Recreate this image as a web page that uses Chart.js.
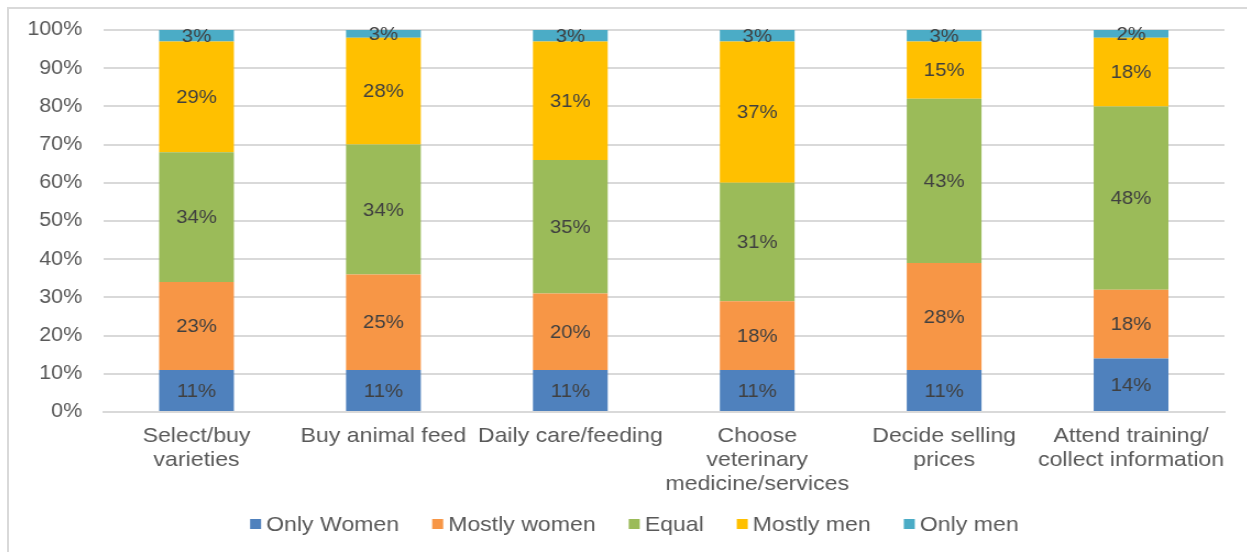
<!DOCTYPE html>
<html>
<head>
<meta charset="utf-8">
<script src="https://cdn.jsdelivr.net/npm/chart.js@4.4.0/dist/chart.umd.min.js"></script>
<style>
  html, body { margin: 0; padding: 0; background: #fff; overflow: hidden; }
  #frame {
    position: absolute; left: 7px; top: 7px; width: 1260px; height: 560px;
    border-left: 2px solid #d9d9d9; border-top: 2px solid #d9d9d9;
  }
  /* chart is laid out narrower and stretched sideways */
  #wrap {
    position: absolute; left: 0; top: 0; width: 1125px; height: 543px;
    transform: scaleX(1.1); transform-origin: 0 0;
  }
</style>
</head>
<body>
<div id="frame"><div id="wrap"><canvas id="decisionChart"></canvas></div></div>
<script>
const categories = [
  ['Select/buy', 'varieties'],
  'Buy animal feed',
  'Daily care/feeding',
  ['Choose', 'veterinary', 'medicine/services'],
  ['Decide selling', 'prices'],
  ['Attend training/', 'collect information']
];
const onlyWomen   = [11, 11, 11, 11, 11, 14];
const mostlyWomen = [23, 25, 20, 18, 28, 18];
const equal       = [34, 34, 35, 31, 43, 48];
const mostlyMen   = [29, 28, 31, 37, 15, 18];
const onlyMen     = [3, 3, 3, 3, 3, 2];
const yTicks = [0, 10, 20, 30, 40, 50, 60, 70, 80, 90, 100];

const font = "'Liberation Sans', Arial, sans-serif";

// writes the percentage in the middle of every segment
const segmentLabels = {
  id: 'segmentLabels',
  afterDatasetsDraw(chart) {
    const ctx = chart.ctx;
    ctx.save();
    ctx.font = '18.5px ' + font;
    ctx.fillStyle = '#404040';
    ctx.textAlign = 'center';
    ctx.textBaseline = 'middle';
    chart.data.datasets.forEach((ds, i) => {
      chart.getDatasetMeta(i).data.forEach((bar, j) => {
        const top = Math.max(bar.y, chart.chartArea.top);
        ctx.fillText(ds.data[j] + '%', bar.x, (top + bar.base) / 2 + 1);
      });
    });
    ctx.restore();
  }
};

// compact legend row under the axis labels (small square tight to its text)
const bottomLegend = {
  id: 'bottomLegend',
  afterDraw(chart) {
    const ctx = chart.ctx;
    const box = 10, textGap = 14.5, itemGap = 30;
    ctx.save();
    ctx.font = '21px ' + font;
    ctx.textBaseline = 'middle';
    const items = chart.data.datasets.map(ds => ({
      text: ds.label, color: ds.backgroundColor, w: ctx.measureText(ds.label).width
    }));
    const total = items.reduce((s, it) => s + textGap + it.w, 0) + itemGap * (items.length - 1);
    let x = chart.width / 2 + 6 - total / 2;
    const y = chart.height - 28;
    items.forEach(it => {
      ctx.fillStyle = it.color;
      ctx.fillRect(x, y - box / 2, box, box);
      ctx.fillStyle = '#595959';
      ctx.fillText(it.text, x + textGap, y + 1);
      x += textGap + it.w + itemGap;
    });
    ctx.restore();
  }
};

function renderDecisionChart() {
  const ctx = document.getElementById('decisionChart').getContext('2d');
  new Chart(ctx, {
    type: 'bar',
    data: {
      labels: categories,
      datasets: [
        { label: 'Only Women', data: onlyWomen, backgroundColor: '#4f81bd' },
        { label: 'Mostly women', data: mostlyWomen, backgroundColor: '#f79646' },
        { label: 'Equal', data: equal, backgroundColor: '#9bbb59' },
        { label: 'Mostly men', data: mostlyMen, backgroundColor: '#ffc000' },
        { label: 'Only men', data: onlyMen, backgroundColor: '#4bacc6' }
      ]
    },
    options: {
      responsive: true,
      maintainAspectRatio: false,
      animation: false,
      datasets: { bar: { categoryPercentage: 1, barPercentage: 0.4 } },
      layout: { padding: { left: 0, right: 20, top: 21, bottom: 48 } },
      plugins: {
        tooltip: { enabled: false },
        legend: { display: false }
      },
      scales: {
        x: {
          stacked: true,
          grid: { display: false, drawTicks: false },
          border: { color: '#d9d9d9', width: 2 },
          ticks: {
            autoSkip: false, maxRotation: 0, padding: 12,
            color: '#595959', font: { family: font, size: 21, lineHeight: 1.15 }
          },
          afterFit(scale) { scale.height = 92; }
        },
        y: {
          stacked: true,
          min: 0, max: 100,
          afterBuildTicks(scale) { scale.ticks = yTicks.map(v => ({ value: v })); },
          grid: { color: '#d9d9d9', lineWidth: 2, drawTicks: false },
          border: { display: false },
          ticks: {
            padding: 19,
            color: '#595959', font: { family: font, size: 19.5 },
            callback: v => v + '%'
          },
          afterFit(scale) {
            scale.width = 85.5;
            scale.paddingTop = 0;
            scale.paddingBottom = 0;
          }
        }
      }
    },
    plugins: [segmentLabels, bottomLegend]
  });
}

document.addEventListener('DOMContentLoaded', renderDecisionChart);
</script>
</body>
</html>
